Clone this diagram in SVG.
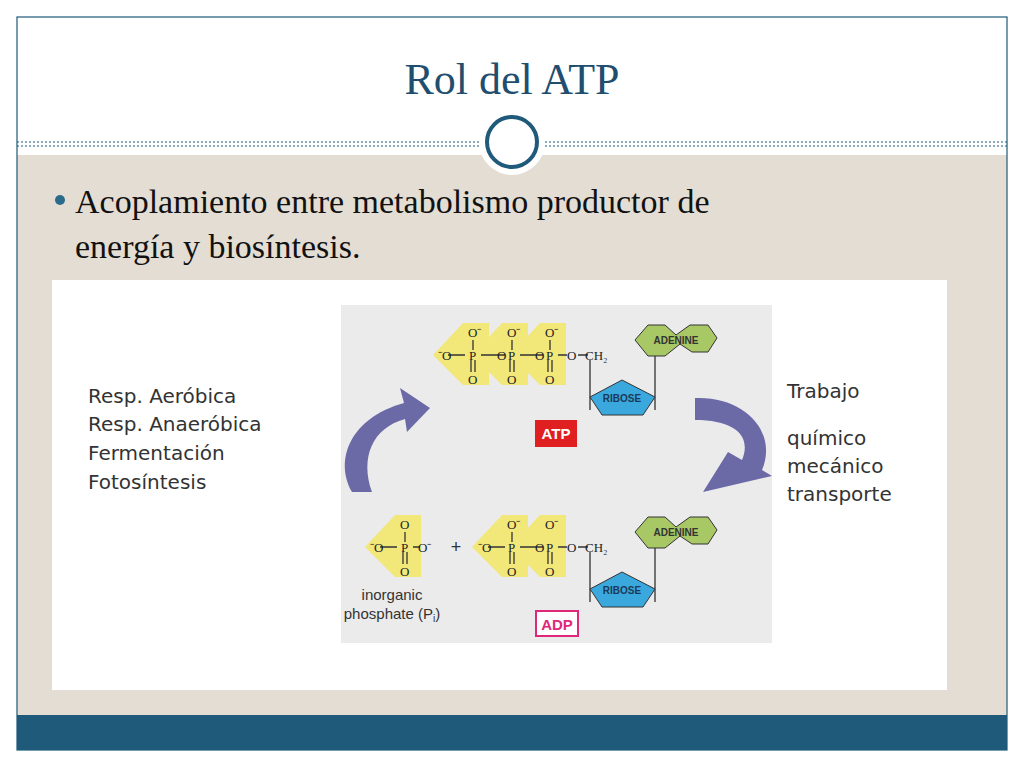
<svg xmlns="http://www.w3.org/2000/svg" width="1024" height="768" viewBox="0 0 1024 768">
<style>
.s{font-family:"Liberation Sans","DejaVu Sans",sans-serif}
.sf{font-family:"Liberation Serif","DejaVu Serif",serif}
.o{font-family:"Liberation Serif",serif;font-size:13px;fill:#222}
.yl{fill:#f2e87a}
.bond{stroke:#333;stroke-width:1.3;fill:none}
.lt{font-family:"DejaVu Sans",sans-serif;font-size:20px;fill:#333}
</style>
<defs>
<g id="ph"><polygon class="yl" points="-40,0 -10,-32 16,-32 16,30 -10,30"/></g>
</defs>
<rect width="1024" height="768" fill="#fff"/>
<rect x="17" y="155" width="990" height="560" fill="#e3ddd3"/>
<rect x="17" y="715" width="990" height="35" fill="#1f5a7a"/>
<rect x="17" y="17" width="990" height="733" fill="none" stroke="#1f5a7a" stroke-width="1.2"/>
<line x1="17" y1="142" x2="1007" y2="142" stroke="#1f5a7a" stroke-dasharray="2,2"/>
<line x1="17" y1="146" x2="1007" y2="146" stroke="#1f5a7a" stroke-dasharray="2,2"/>
<circle cx="512" cy="142" r="33" fill="#fff"/>
<circle cx="512" cy="142" r="25" fill="#fff" stroke="#1f5a7a" stroke-width="4"/>
<text x="512" y="94" text-anchor="middle" class="sf" font-size="44" fill="#1f4e6e">Rol del ATP</text>
<circle cx="60" cy="200" r="5" fill="#2b6a8a"/>
<text x="75" y="213" class="sf" font-size="34" fill="#111">Acoplamiento entre metabolismo productor de</text>
<text x="75" y="258" class="sf" font-size="34" fill="#111">energía y biosíntesis.</text>
<rect x="52" y="280" width="895" height="410" fill="#fff"/>
<rect x="341" y="305" width="431" height="338" fill="#ebebeb"/>
<g id="lefttext">
<text x="88" y="403" class="lt">Resp. Aeróbica</text>
<text x="88" y="431" class="lt">Resp. Anaeróbica</text>
<text x="88" y="460" class="lt">Fermentación</text>
<text x="88" y="489" class="lt">Fotosíntesis</text>
</g>
<g id="righttext">
<text x="787" y="398" class="lt">Trabajo</text>
<text x="787" y="445" class="lt">químico</text>
<text x="787" y="473" class="lt">mecánico</text>
<text x="787" y="501" class="lt">transporte</text>
</g>
<g id="connectors">
<path d="M352,492 C334,460 350,418 404,403 L400,388 L430,408 L407,432 L405,419 C372,428 360,458 372,492 Z" fill="#6b6aa6"/>
<path d="M695,398 C745,396 778,432 762,470 L772,476 L703,492 L728,452 L742,460 C752,436 735,420 695,420 Z" fill="#6b6aa6"/>
</g>
<g id="atp">
<use href="#ph" x="473" y="355"/><use href="#ph" x="512" y="355"/><use href="#ph" x="550" y="355"/>
<path class="bond" d="M448,355 H465 M481,355 H505 M520,355 H543 M558,355 H567 M473,340 V350 M512,340 V350 M550,340 V350 M471,360 V372 M475,360 V372 M510,360 V372 M514,360 V372 M548,360 V372 M552,360 V372 M578,355 H588 M590,360 V410 M655,352 V410"/>
<text class="o" x="438" y="360">⁻O</text>
<text class="o" x="469" y="360">P</text><text class="o" x="497" y="360">O</text>
<text class="o" x="508" y="360">P</text><text class="o" x="535" y="360">O</text>
<text class="o" x="546" y="360">P</text><text class="o" x="567" y="360">O</text>
<text class="o" x="585" y="360">CH₂</text>
<text class="o" x="468" y="337">O⁻</text><text class="o" x="507" y="337">O⁻</text><text class="o" x="545" y="337">O⁻</text>
<text class="o" x="468" y="384">O</text><text class="o" x="507" y="384">O</text><text class="o" x="545" y="384">O</text>
<polygon points="635,340 648,325 665,325 676,335 690,325 708,325 717,338 708,352 692,352 680,344 665,356 648,356" fill="#a8c865" stroke="#333"/>
<text x="676" y="344" text-anchor="middle" class="s" font-size="10" font-weight="bold" fill="#333">ADENINE</text>
<polygon points="590,397 622,380 655,397 643,415 602,415" fill="#3aa8dd" stroke="#333"/>
<text x="622" y="402" text-anchor="middle" class="s" font-size="10" font-weight="bold" fill="#1a3a5a">RIBOSE</text>
<rect x="535" y="420" width="42" height="27" fill="#e02020"/>
<text x="556" y="439" text-anchor="middle" class="s" font-size="15" font-weight="bold" fill="#fff">ATP</text>
</g>
<g id="adp">
<use href="#ph" x="405" y="547"/><use href="#ph" x="512" y="547"/><use href="#ph" x="550" y="547"/>
<path class="bond" d="M380,547 H397 M413,547 H420 M405,532 V542 M403,552 V564 M407,552 V564 M488,547 H505 M520,547 H543 M558,547 H567 M512,532 V542 M510,552 V564 M514,552 V564 M548,552 V564 M552,552 V564 M578,547 H588 M590,552 V602 M655,544 V602"/>
<text class="o" x="370" y="552">⁻O</text><text class="o" x="401" y="552">P</text><text class="o" x="418" y="552">O⁻</text>
<text class="o" x="400" y="529">O</text><text class="o" x="400" y="576">O</text>
<text x="456" y="553" text-anchor="middle" class="s" font-size="18" fill="#333">+</text>
<text class="o" x="478" y="552">⁻O</text>
<text class="o" x="508" y="552">P</text><text class="o" x="535" y="552">O</text>
<text class="o" x="546" y="552">P</text><text class="o" x="567" y="552">O</text>
<text class="o" x="585" y="552">CH₂</text>
<text class="o" x="507" y="529">O⁻</text><text class="o" x="545" y="529">O⁻</text>
<text class="o" x="507" y="576">O</text><text class="o" x="545" y="576">O</text>
<polygon points="635,532 648,517 665,517 676,527 690,517 708,517 717,530 708,544 692,544 680,536 665,548 648,548" fill="#a8c865" stroke="#333"/>
<text x="676" y="536" text-anchor="middle" class="s" font-size="10" font-weight="bold" fill="#333">ADENINE</text>
<polygon points="590,589 622,572 655,589 643,607 602,607" fill="#3aa8dd" stroke="#333"/>
<text x="622" y="594" text-anchor="middle" class="s" font-size="10" font-weight="bold" fill="#1a3a5a">RIBOSE</text>
<text x="392" y="600" text-anchor="middle" class="s" font-size="15" fill="#333">inorganic</text>
<text x="392" y="619" text-anchor="middle" class="s" font-size="15" fill="#333">phosphate (P<tspan font-size="10" dy="3">i</tspan><tspan dy="-3">)</tspan></text>
<rect x="536" y="611" width="42" height="25" fill="#fff" stroke="#e0287a" stroke-width="2"/>
<text x="557" y="630" text-anchor="middle" class="s" font-size="15" font-weight="bold" fill="#e0287a">ADP</text>
</g>
</svg>
